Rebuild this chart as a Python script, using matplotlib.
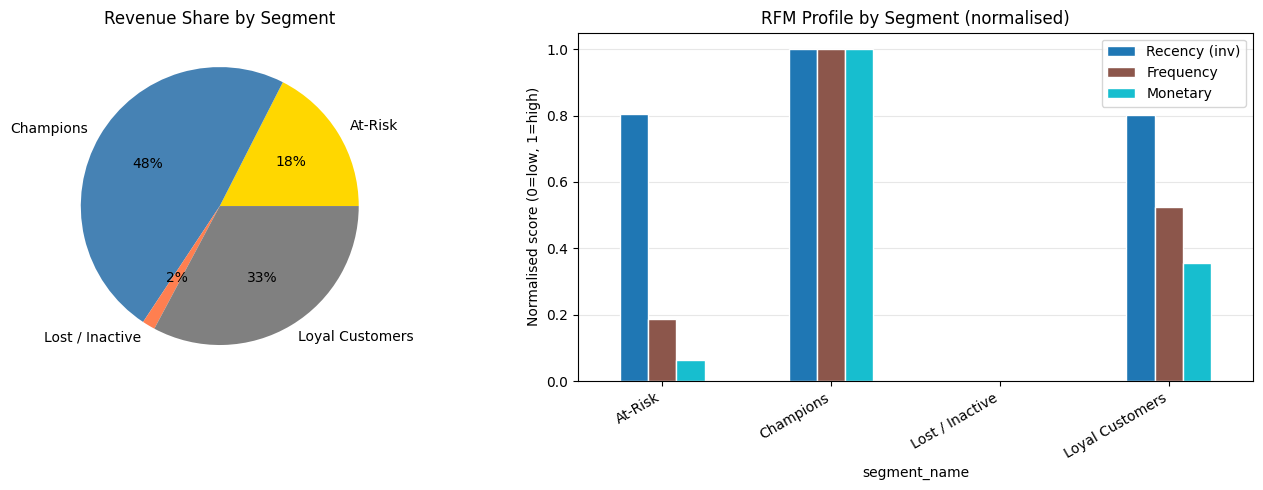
import pandas as pd
import matplotlib
matplotlib.use("Agg")
import matplotlib.pyplot as plt

segments = ["At-Risk", "Champions", "Lost / Inactive", "Loyal Customers"]
revenue_share = [0.175, 0.482, 0.015, 0.328]
pie_colors = ["gold", "steelblue", "coral", "grey"]

recency_inv = [0.806, 1.0, 0.0, 0.803]
frequency = [0.186, 1.0, 0.0, 0.525]
monetary = [0.063, 1.0, 0.0, 0.356]

rfm = pd.DataFrame(
    {"Recency (inv)": recency_inv, "Frequency": frequency, "Monetary": monetary},
    index=pd.Index(segments, name="segment_name"),
)

fig = plt.figure(figsize=(12.63, 4.9), dpi=100)
ax1 = fig.add_axes([0.01, 0.225, 0.328, 0.709])
ax2 = fig.add_axes([0.4576, 0.2224, 0.5345, 0.7109])

ax1.pie(revenue_share, labels=segments, colors=pie_colors, autopct="%1.0f%%")
ax1.set_title("Revenue Share by Segment")

rfm.plot.bar(ax=ax2, color=["#1f77b4", "#8c564b", "#17becf"], edgecolor="white")
ax2.set_title("RFM Profile by Segment (normalised)")
ax2.set_ylabel("Normalised score (0=low, 1=high)")
ax2.set_xticklabels(segments, rotation=30, ha="right")
ax2.grid(axis="y", alpha=0.3)
ax2.set_axisbelow(True)
ax2.legend(loc="upper right")

plt.savefig("out.png")
